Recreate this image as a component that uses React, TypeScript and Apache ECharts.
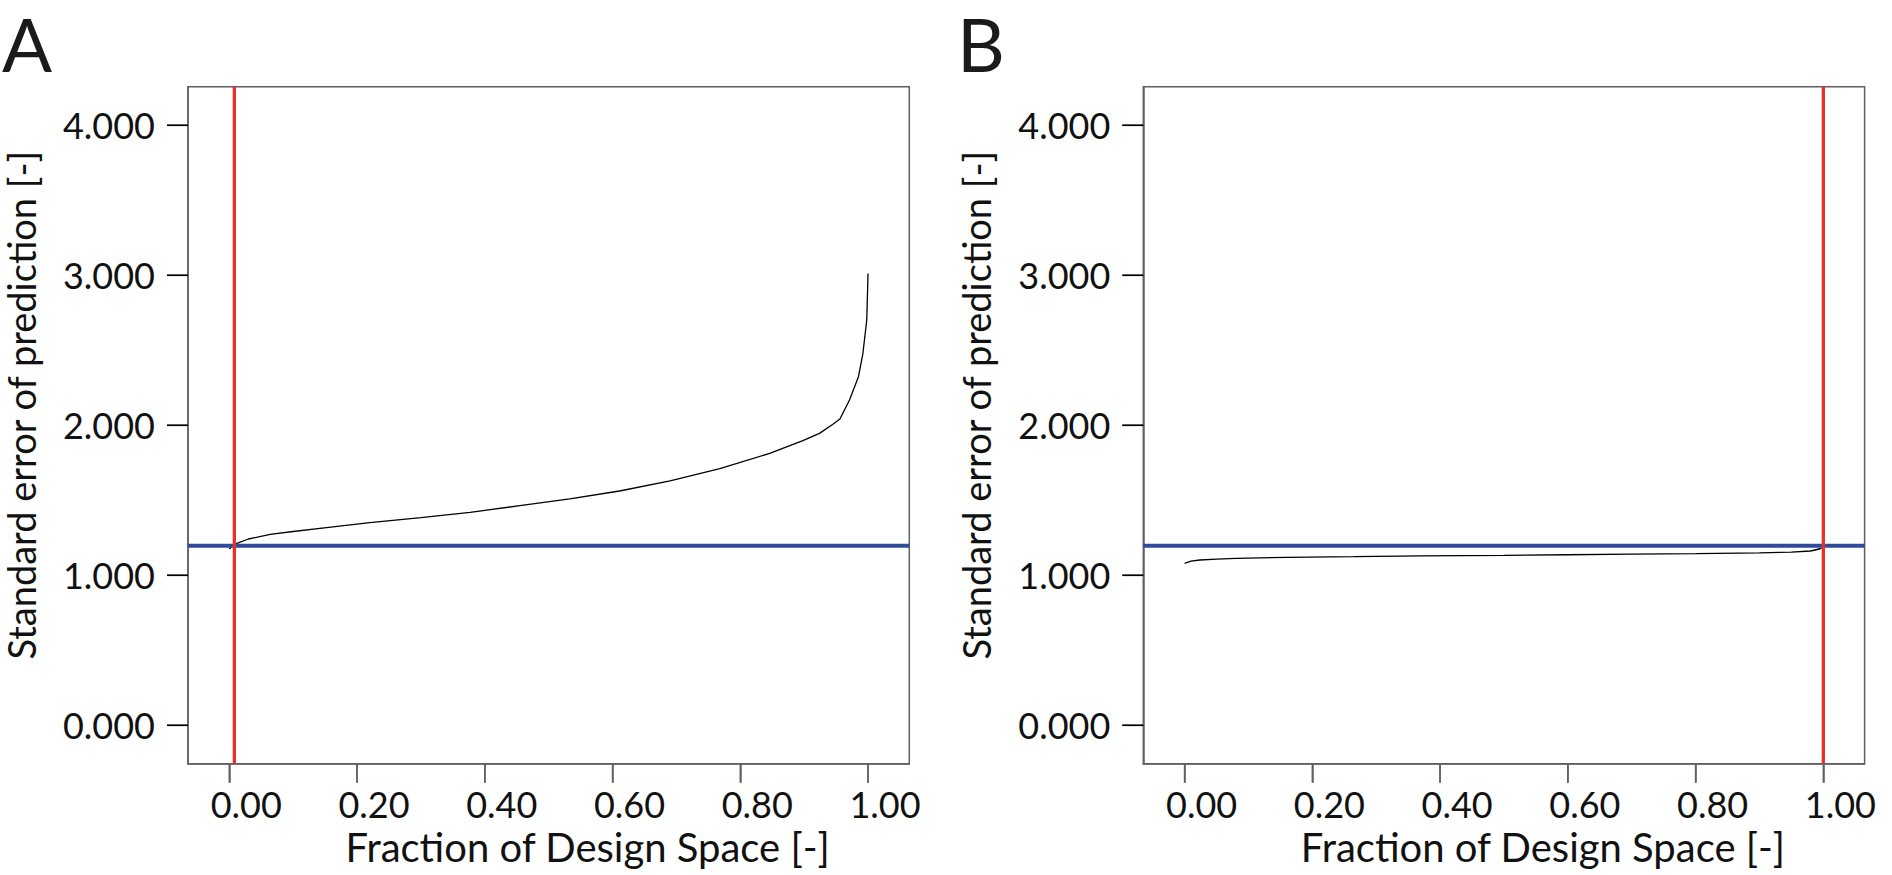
import React, { useEffect, useRef } from "react";
import * as echarts from "echarts";

// ---- data ----
const panelLetters = ["A", "B"];
const xTicks = [0, 0.2, 0.4, 0.6, 0.8, 1.0];
const yTicks = [0, 1, 2, 3, 4];
const xTitle = "Fraction of Design Space [-]";
const yTitle = "Standard error of prediction [-]";

const curveAx = [0, 0.004, 0.012, 0.03, 0.064, 0.1, 0.142, 0.22, 0.3, 0.377, 0.455, 0.533, 0.611, 0.69, 0.768, 0.846, 0.898, 0.924, 0.945, 0.956, 0.971, 0.985, 0.992, 0.998, 1.0];
const curveAy = [1.173, 1.19, 1.211, 1.24, 1.271, 1.29, 1.311, 1.349, 1.382, 1.418, 1.462, 1.507, 1.56, 1.627, 1.709, 1.811, 1.896, 1.944, 2.005, 2.04, 2.167, 2.322, 2.478, 2.7, 3.01];

const curveBx = [0, 0.01, 0.024, 0.05, 0.081, 0.16, 0.265, 0.37, 0.5, 0.6, 0.7, 0.8, 0.9, 0.95, 0.98, 0.995, 1.0];
const curveBy = [1.078, 1.092, 1.1, 1.106, 1.111, 1.118, 1.122, 1.127, 1.131, 1.135, 1.139, 1.143, 1.148, 1.152, 1.16, 1.175, 1.19];

const thresholds = [1.195, 1.195]; // blue horizontal line per panel
const redX = [0.008, 1.0]; // red vertical line per panel

const xRange = [-0.0646, 1.0646];
const yRange = [-0.258, 4.2553];

const FONT = "Lato";
const FRAME = "#5f5f64";
const TEXT = "#111111";

function buildOption() {
  const lefts = [188, 1143.3];
  const curves = [
    curveAx.map((x, i) => [x, curveAy[i]]),
    curveBx.map((x, i) => [x, curveBy[i]]),
  ];
  const grid: any[] = [];
  const xAxis: any[] = [];
  const yAxis: any[] = [];
  const series: any[] = [];
  for (let i = 0; i < 2; i++) {
    grid.push({
      left: lefts[i],
      top: 86.7,
      width: 721.3,
      height: 677,
      show: true,
      borderColor: FRAME,
      borderWidth: 1.5,
      backgroundColor: "transparent",
    });
    xAxis.push({
      type: "value",
      gridIndex: i,
      min: xRange[0],
      max: xRange[1],
      position: "bottom",
      axisLine: { show: true, onZero: false, lineStyle: { color: FRAME, width: 1.5 } },
      splitLine: { show: false },
      axisTick: {
        show: true,
        customValues: xTicks,
        length: 19,
        lineStyle: { color: FRAME, width: 1.5 },
      },
      axisLabel: {
        customValues: xTicks,
        formatter: (v: number) => v.toFixed(2),
        fontFamily: FONT,
        fontSize: 36,
        color: TEXT,
        margin: 22,
        align: "center",
        padding: [0, 0, 0, 34],
      },
      name: xTitle,
      nameLocation: "middle",
      nameGap: 58,
      nameTextStyle: {
        fontFamily: FONT,
        fontSize: 40,
        color: TEXT,
        padding: [0, 0, 0, 78],
      },
    });
    yAxis.push({
      type: "value",
      gridIndex: i,
      min: yRange[0],
      max: yRange[1],
      position: "left",
      axisLine: { show: true, onZero: false, lineStyle: { color: FRAME, width: 1.5 } },
      splitLine: { show: false },
      axisTick: {
        show: true,
        customValues: yTicks,
        length: 21,
        lineStyle: { color: "#000", width: 1.2 },
      },
      axisLabel: {
        customValues: yTicks,
        formatter: (v: number) => v.toFixed(3),
        fontFamily: FONT,
        fontSize: 36,
        color: TEXT,
        margin: 33,
      },
      name: yTitle,
      nameLocation: "middle",
      nameGap: 148,
      nameTextStyle: {
        fontFamily: FONT,
        fontSize: 38,
        color: TEXT,
        padding: [0, 0, 0, 40],
      },
    });
    series.push({
      type: "line",
      xAxisIndex: i,
      yAxisIndex: i,
      data: curves[i],
      showSymbol: false,
      symbol: "none",
      lineStyle: { color: "#000", width: 1.3 },
      z: 2,
    });
    series.push({
      type: "line",
      xAxisIndex: i,
      yAxisIndex: i,
      data: [
        [xRange[0], thresholds[i]],
        [xRange[1], thresholds[i]],
      ],
      symbol: "none",
      lineStyle: { color: "#2f4b9b", width: 3.8 },
      z: 3,
    });
    series.push({
      type: "line",
      xAxisIndex: i,
      yAxisIndex: i,
      data: [
        [redX[i], yRange[0]],
        [redX[i], yRange[1]],
      ],
      symbol: "none",
      lineStyle: { color: "#e5312a", width: 3.3 },
      z: 4,
    });
    // tick marks through the axes' scales (coincide with the axis ticks)
    series.push({
      type: "custom",
      xAxisIndex: i,
      yAxisIndex: i,
      clip: false,
      silent: true,
      z: 100,
      data: xTicks.map((v) => [v, yRange[0]]),
      renderItem: (_p: any, api: any) => {
        const pt = api.coord([api.value(0), api.value(1)]);
        return {
          type: "line",
          shape: { x1: pt[0], y1: pt[1], x2: pt[0], y2: pt[1] + 19 },
          style: { stroke: FRAME, lineWidth: 1.5 },
        };
      },
    });
    series.push({
      type: "custom",
      xAxisIndex: i,
      yAxisIndex: i,
      clip: false,
      silent: true,
      z: 100,
      data: yTicks.map((v) => [xRange[0], v]),
      renderItem: (_p: any, api: any) => {
        const pt = api.coord([api.value(0), api.value(1)]);
        return {
          type: "line",
          shape: { x1: pt[0] - 21, y1: pt[1], x2: pt[0], y2: pt[1] },
          style: { stroke: "#000", lineWidth: 1.2 },
        };
      },
    });
  }
  return {
    animation: false,
    backgroundColor: "#ffffff",
    grid,
    xAxis,
    yAxis,
    series,
    graphic: [
      {
        type: "text",
        left: 2,
        top: 6,
        style: { text: panelLetters[0], font: `74px ${FONT}`, fill: "#1a1a1a" },
      },
      {
        type: "text",
        left: 957,
        top: 6,
        style: { text: panelLetters[1], font: `74px ${FONT}`, fill: "#1a1a1a" },
      },
    ],
  };
}

export default function App() {
  const ref = useRef<HTMLDivElement>(null);
  useEffect(() => {
    if (!ref.current) return;
    const chart = echarts.init(ref.current, null, { renderer: "svg" });
    chart.setOption(buildOption() as any);
    return () => chart.dispose();
  }, []);
  return (
    <div
      ref={ref}
      style={{ position: "absolute", left: 0, top: 0, width: 1892, height: 875 }}
    />
  );
}
